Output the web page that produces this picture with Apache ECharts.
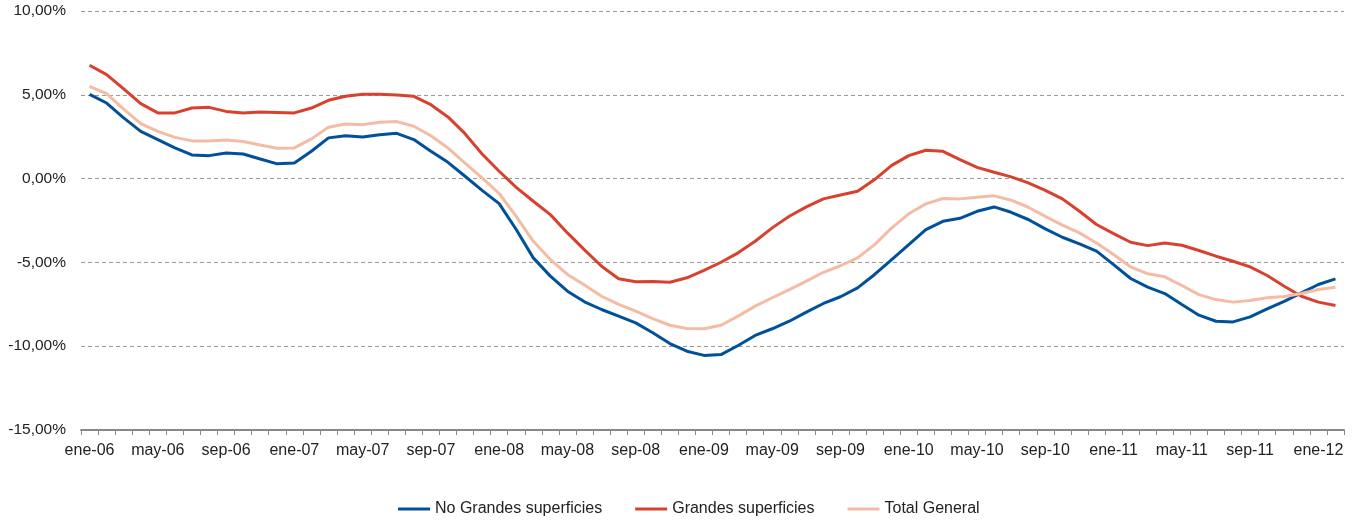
<!DOCTYPE html>
<html>
<head>
<meta charset="utf-8">
<script src="https://cdn.jsdelivr.net/npm/echarts@6/dist/echarts.min.js"></script>
<style>
html,body{margin:0;padding:0;background:#fff;}
#c{width:1356px;height:520px;}
</style>
</head>
<body>
<div id="c"></div>
<script>
var monthNames = ['ene','feb','mar','abr','may','jun','jul','ago','sep','oct','nov','dic'];
var years = ['06','07','08','09','10','11','12'];
var categories = [];
years.forEach(function(y){ monthNames.forEach(function(m){ categories.push(m + '-' + y); }); });
categories = categories.slice(0, 74); // ene-06 .. feb-12

var seriesNames = ['No Grandes superficies', 'Grandes superficies', 'Total General'];

var noGrandes = [
  5.03, 4.51, 3.62, 2.82, 2.33, 1.83, 1.41, 1.37, 1.53, 1.47, 1.17, 0.88, 0.93, 1.63, 2.43,
  2.56, 2.48, 2.62, 2.70, 2.33, 1.63, 0.97, 0.14, -0.70, -1.49, -3.04, -4.73, -5.82, -6.72, -7.35,
  -7.81, -8.21, -8.61, -9.20, -9.84, -10.30, -10.55, -10.50, -9.96, -9.36, -8.96, -8.51, -7.97, -7.45, -7.05,
  -6.52, -5.72, -4.83, -3.94, -3.04, -2.55, -2.37, -1.95, -1.69, -2.01, -2.44, -3.00, -3.50, -3.90,
  -4.33, -5.13, -5.96, -6.48, -6.86, -7.51, -8.15, -8.51, -8.55, -8.25, -7.77, -7.32, -6.82, -6.32, -5.98
];
var grandes = [
  6.76, 6.20, 5.35, 4.47, 3.92, 3.92, 4.21, 4.25, 4.01, 3.92, 3.97, 3.95, 3.92, 4.21, 4.67,
  4.91, 5.03, 5.03, 4.99, 4.91, 4.41, 3.68, 2.68, 1.47, 0.44, -0.52, -1.35, -2.15, -3.24, -4.25,
  -5.23, -5.98, -6.15, -6.14, -6.18, -5.92, -5.47, -4.99, -4.43, -3.74, -2.94, -2.25, -1.69, -1.21, -0.98,
  -0.76, -0.06, 0.79, 1.37, 1.69, 1.63, 1.13, 0.67, 0.38, 0.10, -0.26, -0.70, -1.21, -1.95,
  -2.74, -3.28, -3.80, -4.00, -3.84, -3.98, -4.29, -4.63, -4.93, -5.27, -5.78, -6.42, -7.02, -7.37, -7.57
];
var total = [
  5.50, 5.07, 4.15, 3.28, 2.82, 2.46, 2.25, 2.25, 2.31, 2.21, 2.01, 1.81, 1.83, 2.37, 3.06,
  3.26, 3.22, 3.36, 3.40, 3.12, 2.56, 1.83, 0.93, 0.04, -0.89, -2.25, -3.74, -4.83, -5.72, -6.35,
  -7.02, -7.51, -7.91, -8.35, -8.75, -8.94, -8.96, -8.75, -8.21, -7.61, -7.11, -6.62, -6.12, -5.59, -5.20,
  -4.73, -3.94, -2.94, -2.10, -1.51, -1.19, -1.21, -1.11, -1.03, -1.29, -1.71, -2.25, -2.78, -3.24,
  -3.84, -4.53, -5.27, -5.68, -5.86, -6.38, -6.92, -7.22, -7.37, -7.27, -7.11, -7.04, -6.86, -6.62, -6.48
];

var colors = ['#00509a', '#d9412f', '#f4bca5'];
var font = '"Liberation Sans", Arial, sans-serif';

var chart = echarts.init(document.getElementById('c'), null, {renderer: 'canvas'});
chart.setOption({
  animation: false,
  backgroundColor: '#ffffff',
  color: colors,
  grid: {left: 81, right: 12, top: 11, bottom: 90},
  legend: {
    left: 398, top: 501, padding: 0,
    itemWidth: 32, itemHeight: 3, itemGap: 33,
    icon: 'rect',
    data: seriesNames,
    textStyle: {fontFamily: font, fontSize: 16, color: '#222'}
  },
  xAxis: {
    type: 'category',
    data: categories,
    boundaryGap: true,
    axisLine: {show: true, onZero: false, lineStyle: {color: '#888', width: 2}},
    axisTick: {show: true, interval: 0, length: 5, lineStyle: {color: '#888', width: 1}},
    axisLabel: {interval: 3, fontFamily: font, fontSize: 16, color: '#222', margin: 13},
    splitLine: {show: false}
  },
  yAxis: {
    type: 'value',
    min: -15, max: 10, interval: 5,
    axisLine: {show: false},
    axisTick: {show: false},
    axisLabel: {
      fontFamily: font, fontSize: 15.5, color: '#222', margin: 15,
      formatter: function(v){ return v.toFixed(2).replace('.', ',') + '%'; }
    },
    splitLine: {show: true, lineStyle: {color: '#999', width: 1, type: [4, 3]}}
  },
  series: [
    {name: seriesNames[0], type: 'line', data: noGrandes, symbol: 'none', lineStyle: {width: 3, color: colors[0]}, itemStyle: {color: colors[0]}},
    {name: seriesNames[1], type: 'line', data: grandes, symbol: 'none', lineStyle: {width: 3, color: colors[1]}, itemStyle: {color: colors[1]}},
    {name: seriesNames[2], type: 'line', data: total, symbol: 'none', lineStyle: {width: 3, color: colors[2]}, itemStyle: {color: colors[2]}}
  ]
});
</script>
</body>
</html>
